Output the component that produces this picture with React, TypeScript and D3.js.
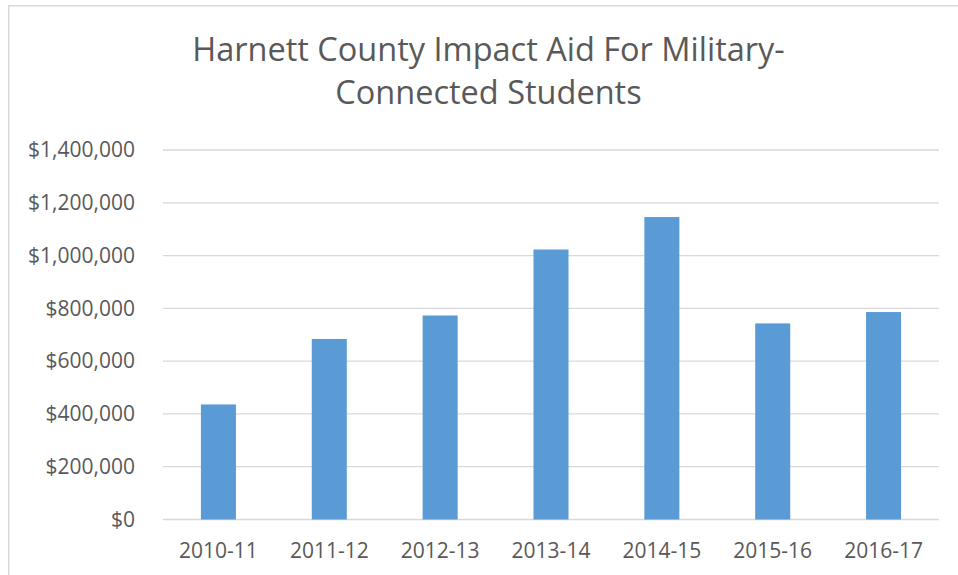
import React from "react";
import * as d3 from "d3";

const categories = ["2010-11", "2011-12", "2012-13", "2013-14", "2014-15", "2015-16", "2016-17"];
const values = [436000, 684000, 773000, 1023000, 1146000, 743000, 786000];
const yTicks = [0, 200000, 400000, 600000, 800000, 1000000, 1200000, 1400000];
const titleLines = ["Harnett County Impact Aid For Military-", "Connected Students"];

export default function App() {
  const W = 958, H = 575;
  const x = d3.scaleBand<string>().domain(categories).range([163, 939]).paddingInner(0.684).paddingOuter(0.342);
  const y = d3.scaleLinear().domain([0, 1400000]).range([519.5, 150]);
  const fmt = (v: number) => "$" + d3.format(",")(v);
  const font = "'Open Sans', sans-serif";
  const textColor = "#595959";
  return (
    <svg width={W} height={H} style={{ position: "absolute", left: 0, top: 0, background: "#fff" }}>
      <rect x={8.75} y={5.75} width={W + 20} height={H + 20} fill="#fff" stroke="#D9D9D9" strokeWidth={1.5} />
      {titleLines.map((t, i) => (
        <text key={i} x={488.5} y={61 + i * 43} textAnchor="middle" fontFamily={font} fontSize={32.5} fill={textColor}>
          {t}
        </text>
      ))}
      {yTicks.map((t) => (
        <g key={t}>
          <line x1={163} x2={939} y1={y(t)} y2={y(t)} stroke="#D9D9D9" strokeWidth={t === 0 ? 1.5 : 1.3} />
          <text x={135} y={y(t)} dy="0.35em" textAnchor="end" fontFamily={font} fontSize={21} fill={textColor}>
            {fmt(t)}
          </text>
        </g>
      ))}
      {categories.map((c, i) => (
        <g key={c}>
          <rect x={x(c)} y={y(values[i])} width={x.bandwidth()} height={y(0) - y(values[i])} fill="#5B9BD5" />
          <text x={(x(c) as number) + x.bandwidth() / 2} y={558} textAnchor="middle" fontFamily={font} fontSize={21} fill={textColor}>
            {c}
          </text>
        </g>
      ))}
    </svg>
  );
}
